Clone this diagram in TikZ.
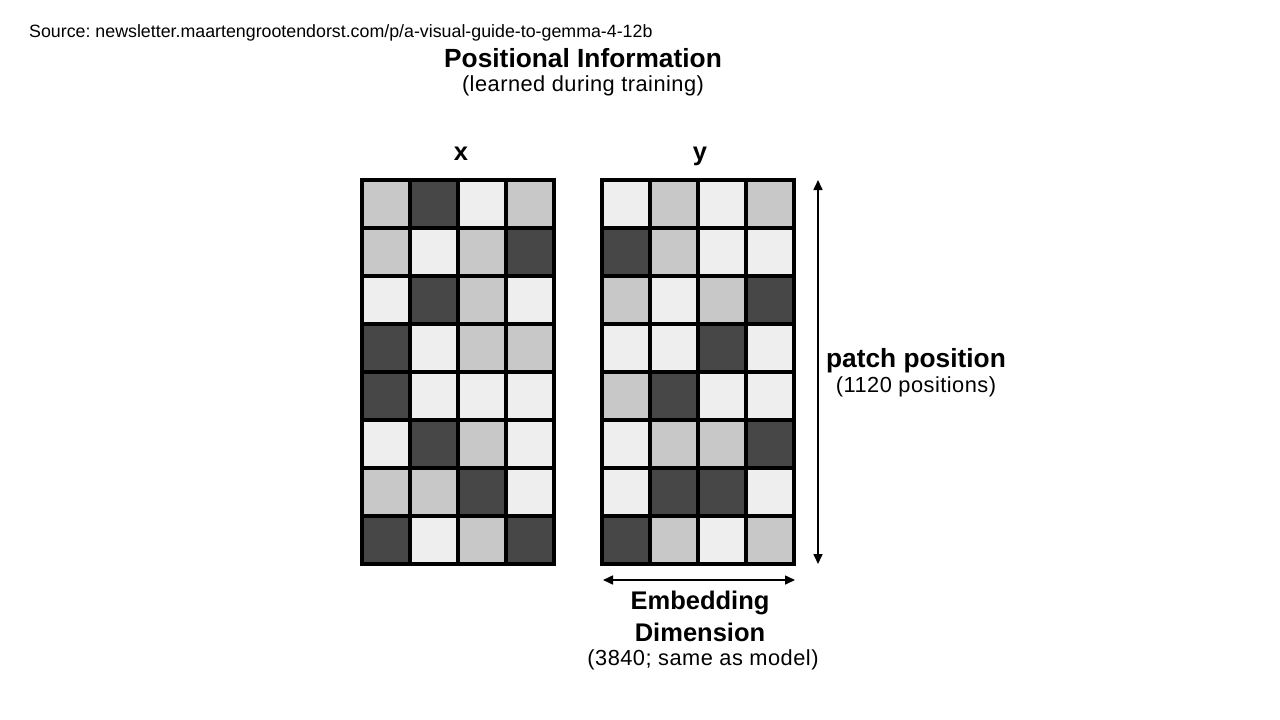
\documentclass[tikz,border=0pt]{standalone}
\usepackage{fontspec}
\setmainfont{Liberation Sans}
\usetikzlibrary{arrows.meta}
\frenchspacing
\definecolor{cL}{HTML}{EEEEEE}
\definecolor{cM}{HTML}{C8C8C8}
\definecolor{cD}{HTML}{474747}
\tikzset{
  gridline/.style={line width=4pt,line cap=rect},
  dimarrow/.style={line width=1.6pt,{Triangle[length=10pt,width=9pt]}-{Triangle[length=10pt,width=9pt]}},
  lbl/.style={inner sep=0pt,anchor=base},
  boldlbl/.style={lbl,font=\fontsize{25.5}{28}\bfseries},
  thinlbl/.style={lbl,font=\fontsize{21.8}{24}\selectfont\addfontfeatures{LetterSpace=2.2}},
}
\newcommand{\drawgrid}[3]{% left, top, list of rows
  \foreach \row [count=\r from 0] in {#3} {
    \foreach \c [count=\k from 0] in \row {
      \fill[c\c] ({#1+\k*48},{#2+\r*48}) rectangle ++(48,48);
    }
  }
  \foreach \k in {0,...,4} \draw[gridline] ({#1+\k*48},#2) -- ++(0,384);
  \foreach \r in {0,...,8} \draw[gridline] (#1,{#2+\r*48}) -- ++(192,0);
}
\begin{document}
\begin{tikzpicture}[x=1pt,y=-1pt]
\useasboundingbox[fill=white] (0,0) rectangle (1280,720);
\node[lbl,anchor=base west,font=\fontsize{17.8}{20}\selectfont] (src) at (29,37) {Source: newsletter.maartengrootendorst.com/p/a-visual-guide-to-gemma-4-12b};
\node[lbl,font=\fontsize{26.3}{28}\bfseries] (title) at (583,67) {Positional Information};
\node[thinlbl] (sub) at (583,91) {(learned during training)};
\node[boldlbl] (xl) at (461,160) {x};
\node[boldlbl] (yl) at (700,160) {y};
\drawgrid{362}{180}{{M,D,L,M},{M,L,M,D},{L,D,M,L},{D,L,M,M},{D,L,L,L},{L,D,M,L},{M,M,D,L},{D,L,M,D}}
\drawgrid{602}{180}{{L,M,L,M},{D,M,L,L},{M,L,M,D},{L,L,D,L},{M,D,L,L},{L,M,M,D},{L,D,D,L},{D,M,L,M}}
\coordinate (vt) at (818,180);
\coordinate (vb) at (818,564);
\draw[dimarrow] (vt) -- (vb);
\coordinate (hl) at (603,580);
\coordinate (hr) at (795,580);
\draw[dimarrow] (hl) -- (hr);
\node[boldlbl,font=\fontsize{26.3}{28}\bfseries] (pp) at (916,367) {patch position};
\node[thinlbl] (ppn) at (916,392) {(1120 positions)};
\node[boldlbl] (ed1) at (700,609) {Embedding};
\node[boldlbl] (ed2) at (700,641) {Dimension};
\node[thinlbl] (edn) at (703,665) {(3840; same as model)};
\end{tikzpicture}
\end{document}
